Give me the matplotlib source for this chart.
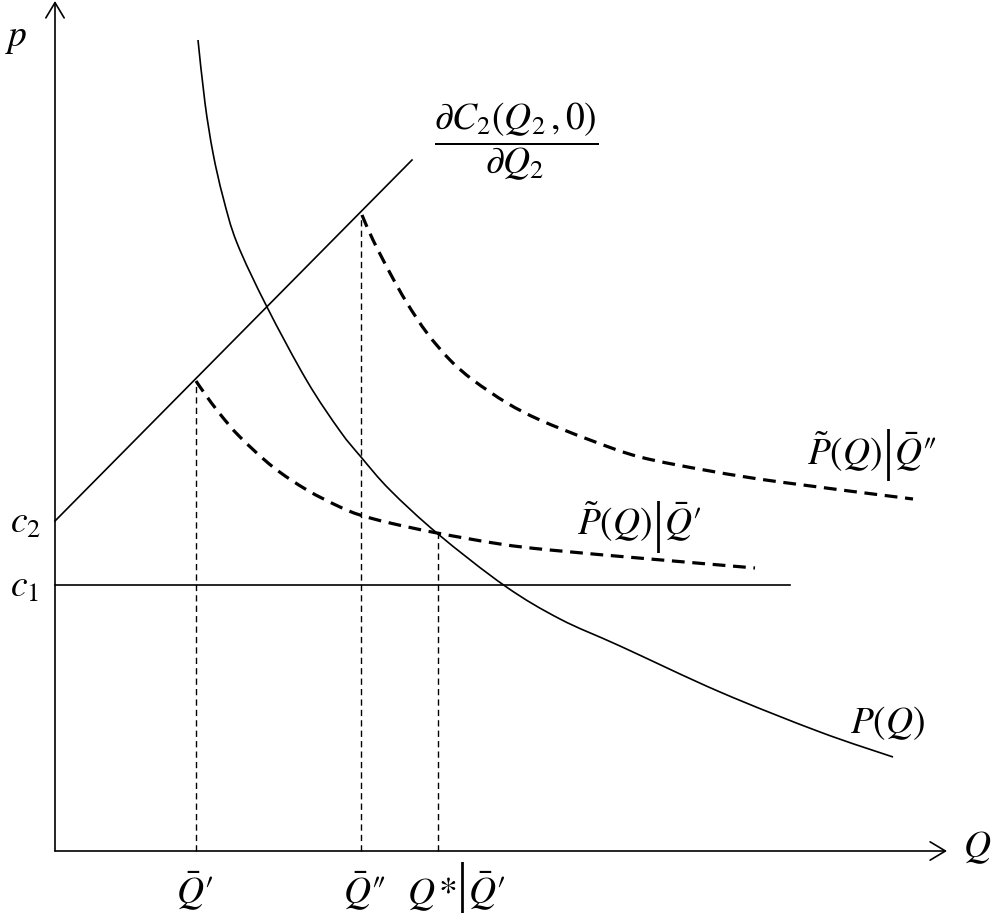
import matplotlib
matplotlib.use("Agg")
import matplotlib.pyplot as plt
from matplotlib.patches import FancyArrowPatch, PathPatch
from matplotlib.path import Path

plt.rcParams['mathtext.fontset'] = 'stix'
plt.rcParams['font.family'] = ['STIXGeneral', 'DejaVu Serif']

# ---- data (Q, p) ----
demand_q = [1.43, 1.50, 1.58, 1.68, 1.82, 2.12, 2.52, 2.85, 3.06, 3.35, 3.83,
            4.50, 5.05, 5.65, 6.65, 7.65, 8.38]
demand_p = [8.11, 7.48, 6.98, 6.54, 6.08, 5.44, 4.70, 4.20, 3.94, 3.61, 3.17,
            2.65, 2.32, 2.05, 1.59, 1.19, 0.94]

mc_q = [0.0, 3.57]
mc_p = [3.30, 6.91]

c1_q = [0.0, 7.35]
c1_p = [2.66, 2.66]

resid2_q = [3.07, 3.18, 3.35, 3.52, 3.72, 3.95, 4.18, 4.52, 4.85, 5.35, 5.85, 6.55, 7.25, 8.58]
resid2_p = [6.36, 6.11, 5.78, 5.48, 5.18, 4.91, 4.71, 4.48, 4.31, 4.11, 3.94, 3.80, 3.69, 3.52]

resid1_q = [1.41, 1.50, 1.65, 1.85, 2.18, 2.52, 2.85, 3.05, 3.35, 3.82, 4.45, 4.95, 5.95, 7.00]
resid1_p = [4.70, 4.57, 4.37, 4.14, 3.84, 3.61, 3.44, 3.36, 3.28, 3.18, 3.07, 3.01, 2.92, 2.83]

vline_q = [1.41, 3.06, 3.83]
vline_top = [4.70, 6.36, 3.18]

c_levels = [3.30, 2.66]
c_labels = [r"$c_2$", r"$c_1$"]

PRIME = "\u2032"
DPRIME = "\u2033"


def smooth_path(xs, ys):
    """Catmull-Rom curve through the read points, drawn as cubic Bezier segments."""
    pts = list(zip(xs, ys))
    n = len(pts)
    verts = [pts[0]]
    codes = [Path.MOVETO]
    for i in range(n - 1):
        p0 = pts[i - 1] if i > 0 else pts[i]
        p1 = pts[i]
        p2 = pts[i + 1]
        p3 = pts[i + 2] if i + 2 < n else pts[i + 1]
        c1 = (p1[0] + (p2[0] - p0[0]) / 6.0, p1[1] + (p2[1] - p0[1]) / 6.0)
        c2 = (p2[0] - (p3[0] - p1[0]) / 6.0, p2[1] - (p3[1] - p1[1]) / 6.0)
        verts += [c1, c2, p2]
        codes += [Path.CURVE4] * 3
    return Path(verts, codes)


fig = plt.figure(figsize=(9.93, 9.13), dpi=100)
ax = fig.add_axes([0, 0, 1, 1])
ax.set_xlim(-0.55, 9.38)
ax.set_ylim(-0.62, 8.51)
ax.axis('off')

lw = 1.2
# axes with open arrowheads
for start, end in [((0, 0), (0, 8.50)), ((0, 0), (8.92, 0))]:
    ax.add_patch(FancyArrowPatch(start, end, arrowstyle='->,head_length=0.5,head_width=0.3',
                                 mutation_scale=22, lw=lw, color='black', shrinkA=0, shrinkB=0))

ax.add_patch(PathPatch(smooth_path(demand_q, demand_p), fill=False, edgecolor='black', lw=lw))
ax.plot(mc_q, mc_p, color='black', lw=lw)
ax.plot(c1_q, c1_p, color='black', lw=lw)
for qs, ps in [(resid2_q, resid2_p), (resid1_q, resid1_p)]:
    ax.add_patch(PathPatch(smooth_path(qs, ps), fill=False, edgecolor='black', lw=2.3,
                           linestyle=(0, (4.0, 2.4))))
for q, top in zip(vline_q, vline_top):
    ax.plot([q, q], [0, top], color='black', lw=1.0, dashes=(4.5, 3.0))

fs = 27
bar_fs = 40
label_y = -0.53

# labels under the Q axis
ax.text(1.40, label_y, r"$\bar{Q}$" + PRIME, fontsize=fs, ha='center', va='baseline')
ax.text(3.09, label_y, r"$\bar{Q}$" + DPRIME, fontsize=fs, ha='center', va='baseline')


def barred(xbar, ybase, left, right, ybar):
    ax.text(xbar - 0.055, ybase, left, fontsize=fs, ha='right', va='baseline')
    ax.text(xbar, ybar, "|", fontsize=bar_fs, family='Liberation Serif',
            ha='center', va='center')
    ax.text(xbar + 0.06, ybase, right, fontsize=fs, ha='left', va='baseline')


barred(4.07, label_y, r"$Q\,{*}$", r"$\bar{Q}$" + PRIME, -0.37)
barred(8.33, 3.86, r"$\tilde{P}(Q)$", r"$\bar{Q}$" + DPRIME, 3.96)
barred(6.03, 3.16, r"$\tilde{P}(Q)$", r"$\bar{Q}$" + PRIME, 3.24)

for y, lab in zip([3.18, 2.54], c_labels):
    ax.text(-0.45, y, lab, fontsize=fs, ha='left', va='baseline')

ax.text(-0.50, 8.05, r"$p$", fontsize=fs, ha='left', va='baseline')
ax.text(9.08, -0.06, r"$Q$", fontsize=fs, ha='left', va='baseline')
ax.text(8.33, 1.18, r"$P(Q)$", fontsize=fs, ha='center', va='baseline')
ax.text(4.61, 7.09, r"$\dfrac{\partial C_2(Q_2\,,0)}{\partial Q_2}$", fontsize=fs, ha='center', va='center')

fig.savefig("out.png", dpi=100)
